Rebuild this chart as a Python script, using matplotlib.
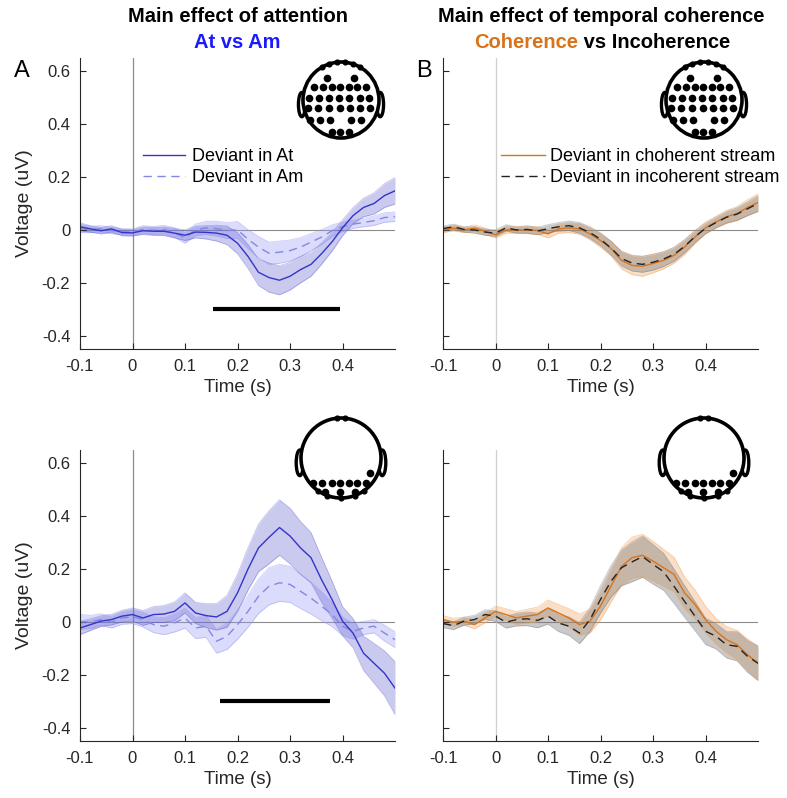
import numpy as np
import matplotlib.pyplot as plt
from matplotlib.patches import Circle, Ellipse

plt.rcParams['font.family'] = ['Liberation Sans', 'DejaVu Sans']

# time axis (s)
time = np.round(np.arange(-0.1, 0.501, 0.02), 2)

# --- frontal cluster, attention ---
front_at = [0.012, 0.004, -0.003, 0.004, -0.010, -0.011, -0.003, -0.005, -0.005, -0.012,
            -0.020, -0.008, -0.009, -0.012, -0.020, -0.050, -0.100, -0.160, -0.180, -0.190,
            -0.175, -0.150, -0.130, -0.090, -0.045, 0.008, 0.054, 0.085, 0.100, 0.130, 0.148]
front_at_err = [0.015, 0.012, 0.012, 0.012, 0.012, 0.012, 0.014, 0.015, 0.016, 0.018,
                0.020, 0.022, 0.025, 0.030, 0.035, 0.040, 0.045, 0.050, 0.055, 0.055,
                0.052, 0.050, 0.045, 0.040, 0.035, 0.030, 0.030, 0.035, 0.040, 0.045, 0.050]
front_am = [0.005, 0.002, 0.004, -0.002, -0.006, -0.008, 0.002, -0.002, 0.001, -0.010,
            -0.030, 0.000, 0.008, 0.005, -0.002, 0.000, -0.035, -0.065, -0.088, -0.084,
            -0.078, -0.065, -0.046, -0.027, -0.003, 0.012, 0.022, 0.028, 0.035, 0.047, 0.050]
front_am_err = [0.015, 0.012, 0.012, 0.012, 0.012, 0.012, 0.014, 0.015, 0.016, 0.018,
                0.020, 0.022, 0.025, 0.028, 0.030, 0.032, 0.036, 0.040, 0.042, 0.042,
                0.040, 0.036, 0.032, 0.028, 0.022, 0.018, 0.016, 0.016, 0.018, 0.018, 0.018]

# --- posterior cluster, attention ---
post_at = [-0.023, -0.010, 0.003, 0.009, 0.022, 0.028, 0.015, 0.028, 0.030, 0.040,
           0.072, 0.034, 0.024, 0.019, 0.040, 0.110, 0.200, 0.280, 0.320, 0.357,
           0.325, 0.280, 0.243, 0.160, 0.085, 0.003, -0.042, -0.118, -0.156, -0.194, -0.250]
post_at_err = [0.025, 0.022, 0.020, 0.020, 0.022, 0.025, 0.028, 0.030, 0.032, 0.035,
               0.038, 0.040, 0.045, 0.050, 0.060, 0.070, 0.080, 0.090, 0.100, 0.105,
               0.105, 0.100, 0.095, 0.085, 0.070, 0.055, 0.055, 0.065, 0.075, 0.085, 0.100]
post_am = [0.000, 0.000, 0.009, -0.001, 0.015, 0.020, 0.009, -0.010, -0.016, -0.003,
           0.015, -0.023, -0.016, -0.073, -0.054, -0.010, 0.040, 0.097, 0.135, 0.148,
           0.142, 0.116, 0.090, 0.060, 0.028, -0.016, -0.035, -0.023, -0.016, -0.042, -0.067]
post_am_err = [0.028, 0.025, 0.022, 0.022, 0.024, 0.026, 0.028, 0.030, 0.032, 0.035,
               0.038, 0.040, 0.042, 0.045, 0.050, 0.055, 0.060, 0.065, 0.070, 0.070,
               0.068, 0.065, 0.060, 0.055, 0.045, 0.035, 0.030, 0.025, 0.025, 0.030, 0.030]

# --- frontal cluster, temporal coherence ---
front_coh = [0.000, 0.007, 0.000, 0.007, -0.005, -0.018, 0.000, 0.000, 0.000, -0.002,
             -0.015, 0.004, 0.008, 0.004, -0.015, -0.040, -0.070, -0.115, -0.134, -0.137,
             -0.127, -0.115, -0.096, -0.065, -0.027, 0.008, 0.030, 0.050, 0.062, 0.085, 0.104]
front_coh_err = [0.010, 0.010, 0.010, 0.012, 0.012, 0.012, 0.012, 0.012, 0.014, 0.014,
                 0.015, 0.016, 0.018, 0.020, 0.022, 0.025, 0.028, 0.032, 0.035, 0.038,
                 0.035, 0.032, 0.030, 0.028, 0.025, 0.022, 0.022, 0.024, 0.026, 0.030, 0.032]
front_inc = [0.005, 0.012, 0.002, 0.000, -0.008, -0.012, 0.008, 0.000, 0.002, -0.004,
             0.005, 0.012, 0.016, 0.008, -0.010, -0.035, -0.068, -0.108, -0.125, -0.130,
             -0.122, -0.110, -0.092, -0.062, -0.025, 0.006, 0.028, 0.048, 0.060, 0.080, 0.100]
front_inc_err = [0.010, 0.010, 0.010, 0.012, 0.012, 0.012, 0.012, 0.012, 0.014, 0.014,
                 0.015, 0.016, 0.018, 0.020, 0.022, 0.024, 0.026, 0.028, 0.030, 0.030,
                 0.030, 0.028, 0.026, 0.024, 0.022, 0.020, 0.020, 0.022, 0.024, 0.026, 0.030]

# --- posterior cluster, temporal coherence ---
post_coh = [0.009, -0.001, 0.003, -0.010, 0.015, 0.040, 0.028, 0.015, 0.022, 0.028,
            0.053, 0.034, 0.015, -0.010, 0.003, 0.060, 0.135, 0.210, 0.243, 0.252,
            0.230, 0.205, 0.180, 0.110, 0.066, 0.009, -0.035, -0.067, -0.086, -0.124, -0.156]
post_coh_err = [0.015, 0.015, 0.015, 0.016, 0.018, 0.020, 0.022, 0.024, 0.026, 0.028,
                0.030, 0.032, 0.035, 0.040, 0.045, 0.052, 0.060, 0.070, 0.078, 0.080,
                0.075, 0.070, 0.065, 0.060, 0.055, 0.050, 0.048, 0.050, 0.055, 0.060, 0.065]
post_inc = [-0.006, -0.014, 0.003, 0.009, 0.028, 0.022, -0.001, 0.009, 0.012, 0.006,
            0.022, -0.004, -0.016, -0.042, 0.009, 0.085, 0.154, 0.205, 0.227, 0.247,
            0.218, 0.190, 0.135, 0.078, 0.022, -0.035, -0.054, -0.086, -0.092, -0.130, -0.156]
post_inc_err = [0.015, 0.015, 0.015, 0.016, 0.018, 0.020, 0.022, 0.024, 0.026, 0.028,
                0.030, 0.032, 0.035, 0.040, 0.045, 0.052, 0.060, 0.068, 0.075, 0.078,
                0.075, 0.070, 0.065, 0.060, 0.055, 0.050, 0.048, 0.050, 0.055, 0.060, 0.065]

# significant time windows (s)
sig_front = [0.153, 0.395]
sig_post = [0.167, 0.377]
sig_level = -0.3

yticks = [-0.4, -0.2, 0, 0.2, 0.4, 0.6]
ytick_labels = ['-0.4', '-0.2', '0', '0.2', '0.4', '0.6']
xticks = [-0.1, 0, 0.1, 0.2, 0.3, 0.4]
xtick_labels = ['-0.1', '0', '0.1', '0.2', '0.3', '0.4']

# electrode layouts (head radius units)
front_elec = [(-0.37, 0.58), (0.34, 0.58),
              (-0.71, 0.34), (-0.47, 0.34), (-0.24, 0.34), (-0.03, 0.34), (0.21, 0.34), (0.42, 0.34), (0.66, 0.34),
              (-0.84, 0.05), (-0.58, 0.05), (-0.32, 0.05), (-0.05, 0.05), (0.21, 0.05), (0.50, 0.05), (0.74, 0.05),
              (-0.87, -0.21), (-0.60, -0.21), (-0.32, -0.21), (-0.03, -0.21), (0.24, -0.21), (0.50, -0.21), (0.76, -0.21),
              (-0.82, -0.53), (-0.55, -0.53), (-0.29, -0.53), (0.26, -0.53), (0.53, -0.53),
              (-0.24, -0.84), (-0.03, -0.84), (0.21, -0.84)]
post_elec = [(0.72, -0.37),
             (-0.70, -0.62), (-0.48, -0.62), (-0.22, -0.62), (-0.02, -0.62), (0.20, -0.62), (0.40, -0.62), (0.62, -0.62),
             (-0.40, -0.85), (-0.02, -0.85), (0.35, -0.85)]
front_rim = [60, 72, 84, 96, 108, 120]
post_rim = [84, 96, -55, -70, -90, -110, -125]

BLUE = '#3434C8'
BLUE_LIGHT = '#8585E6'
ORANGE = '#D9731A'


def draw_head(fig, cx, cy, r, elecs, rim):
    side = 2.7 * r
    hax = fig.add_axes([(cx - side / 2) / 787, 1 - (cy + side / 2) / 798, side / 787, side / 798])
    hax.set_xlim(-1.35, 1.35)
    hax.set_ylim(-1.35, 1.35)
    hax.set_aspect('equal')
    hax.axis('off')
    for sx in (-1, 1):
        hax.add_patch(Ellipse((sx * 1.03, -0.12), 0.18, 0.64, fc='white', ec='black', lw=2.4))
    hax.add_patch(Circle((0, 0), 1.0, fc='white', ec='black', lw=2.6))
    for a in rim:
        ang = np.deg2rad(a)
        hax.plot(np.cos(ang), np.sin(ang), 'o', color='black', ms=3.4)
    ex = [e[0] for e in elecs]
    ey = [e[1] for e in elecs]
    hax.plot(ex, ey, 'o', color='black', ms=4.5, ls='none')


def style_axes(ax, zero_color, left):
    ax.set_xlim(-0.1, 0.5)
    ax.set_ylim(-0.45, 0.65)
    ax.spines['top'].set_visible(False)
    ax.spines['right'].set_visible(False)
    for s in ('left', 'bottom'):
        ax.spines[s].set_color('#262626')
        ax.spines[s].set_linewidth(0.8)
    ax.set_xticks(xticks)
    ax.set_xticklabels(xtick_labels)
    ax.set_yticks(yticks)
    ax.tick_params(direction='in', length=4, labelsize=12, colors='#262626', pad=7)
    ax.axhline(0, color='#8c8c8c', lw=0.8, zorder=0)
    ax.axvline(0, color=zero_color, lw=0.9, zorder=0)
    ax.set_xlabel('Time (s)', fontsize=13.5, color='#262626', labelpad=4)
    if left:
        ax.set_yticklabels(ytick_labels)
        ax.set_ylabel('Voltage (uV)', fontsize=14, color='#262626', labelpad=6)
    else:
        ax.set_yticklabels([])


def band(ax, y, err, color, alpha, edge_alpha):
    y = np.array(y)
    err = np.array(err)
    ax.fill_between(time, y - err, y + err, color=color, alpha=alpha, lw=0)
    ax.plot(time, y - err, color=color, alpha=edge_alpha, lw=0.6)
    ax.plot(time, y + err, color=color, alpha=edge_alpha, lw=0.6)


fig = plt.figure(figsize=(7.87, 7.98), dpi=100)

w = 315 / 787
h = 291 / 798
ax_tl = fig.add_axes([80 / 787, 1 - 349 / 798, w, h])
ax_tr = fig.add_axes([443 / 787, 1 - 349 / 798, w, h])
ax_bl = fig.add_axes([80 / 787, 1 - 741 / 798, w, h])
ax_br = fig.add_axes([443 / 787, 1 - 741 / 798, w, h])

# attention panels
for ax, at, at_err, am, am_err, sig in [(ax_tl, front_at, front_at_err, front_am, front_am_err, sig_front),
                                        (ax_bl, post_at, post_at_err, post_am, post_am_err, sig_post)]:
    style_axes(ax, '#8c8c8c', True)
    band(ax, am, am_err, '#9a9af5', 0.35, 0.5)
    band(ax, at, at_err, '#5050cc', 0.3, 0.35)
    ax.plot(time, am, color=BLUE_LIGHT, lw=1.0, ls=(0, (6, 4)), label='Deviant in Am')
    ax.plot(time, at, color=BLUE, lw=1.0, label='Deviant in At')
    ax.plot(sig, [sig_level, sig_level], color='black', lw=3, solid_capstyle='butt')

# coherence panels
for ax, coh, coh_err, inc, inc_err in [(ax_tr, front_coh, front_coh_err, front_inc, front_inc_err),
                                       (ax_br, post_coh, post_coh_err, post_inc, post_inc_err)]:
    style_axes(ax, '#cfcfcf', False)
    band(ax, coh, coh_err, '#f0a460', 0.35, 0.5)
    band(ax, inc, inc_err, '#7a7a7a', 0.4, 0.4)
    ax.plot(time, coh, color=ORANGE, lw=1.0, label='Deviant in choherent stream')
    ax.plot(time, inc, color='#222222', lw=1.0, ls=(0, (6, 4)), label='Deviant in incoherent stream')

h_l, l_l = ax_tl.get_legend_handles_labels()
ax_tl.legend(h_l[::-1], l_l[::-1], loc='upper left', bbox_to_anchor=(0.2, 0.69), frameon=False,
             fontsize=13, handlelength=2.3, handletextpad=0.4, labelspacing=0.2,
             borderpad=0, borderaxespad=0)
h_r, l_r = ax_tr.get_legend_handles_labels()
ax_tr.legend(h_r, l_r, loc='upper left', bbox_to_anchor=(0.185, 0.69), frameon=False,
             fontsize=13, handlelength=2.4, handletextpad=0.3, labelspacing=0.2,
             borderpad=0, borderaxespad=0)

# heads
draw_head(fig, 341, 100, 38, front_elec, front_rim)
draw_head(fig, 704, 100, 38, front_elec, front_rim)
draw_head(fig, 341, 458, 40, post_elec, post_rim)
draw_head(fig, 704, 458, 40, post_elec, post_rim)

# titles
fig.text(237.5 / 787, 1 - 17 / 798, 'Main effect of attention', ha='center', va='center',
         fontsize=14.5, fontweight='bold')
fig.text(237.5 / 787, 1 - 42 / 798, 'At vs Am', ha='center', va='center',
         fontsize=14.5, fontweight='bold', color='#1a1aff')
fig.text(601.5 / 787, 1 - 17 / 798, 'Main effect of temporal coherence', ha='center', va='center',
         fontsize=14.5, fontweight='bold')
t1 = fig.text(578 / 787, 1 - 42 / 798, 'Coherence', ha='right', va='center',
              fontsize=14.5, fontweight='bold', color=ORANGE)
ax_tr.annotate(' vs Incoherence', xy=(1, 0), xycoords=t1, va='bottom', ha='left',
               fontsize=14.5, fontweight='bold', color='black', annotation_clip=False)

fig.text(22 / 787, 1 - 71 / 798, 'A', ha='center', va='center', fontsize=17)
fig.text(424 / 787, 1 - 71 / 798, 'B', ha='center', va='center', fontsize=17)

fig.savefig('out.png', dpi=100)
